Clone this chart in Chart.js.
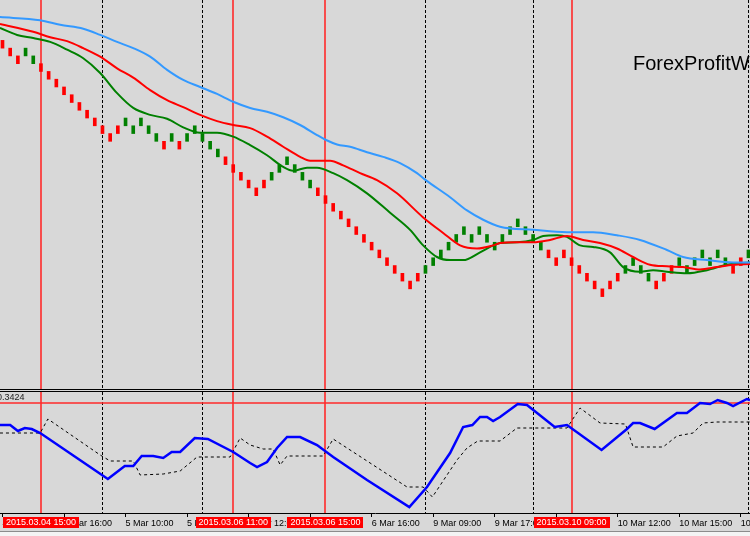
<!DOCTYPE html>
<html>
<head>
<meta charset="utf-8">
<script src="https://cdn.jsdelivr.net/npm/chart.js@4"></script>
<style>
  html, body { margin: 0; padding: 0; background: #d8d8d8; }
  #wrap { position: relative; width: 750px; height: 536px; overflow: hidden; background: #d8d8d8; }
  #mainChart { position: absolute; left: 0; top: 0; }
  #subChart { position: absolute; left: 0; top: 392px; }
  .sep { position: absolute; left: 0; width: 750px; height: 1px; background: #000; }
  #tabs { position: absolute; left: 0; top: 531px; width: 750px; height: 5px; background: #f4f4f4; border-top: 1px solid #8c8c8c; }
</style>
</head>
<body>
<div id="wrap">
  <canvas id="mainChart" width="750" height="389"></canvas>
  <div class="sep" style="top:389px"></div>
  <div class="sep" style="top:391px"></div>
  <canvas id="subChart" width="750" height="139"></canvas>
  <div id="tabs"></div>
</div>
<script>
// ---- bricks (one per bar index, brick size 10 pips) ----
const brickHigh = [
  1.0950, 1.0940, 1.0930, 1.0940, 1.0930, 1.0920, 1.0910, 1.0900, 1.0890, 1.0880,
  1.0870, 1.0860, 1.0850, 1.0840, 1.0830, 1.0840, 1.0850, 1.0840, 1.0850, 1.0840,
  1.0830, 1.0820, 1.0830, 1.0820, 1.0830, 1.0840, 1.0830, 1.0820, 1.0810, 1.0800,
  1.0790, 1.0780, 1.0770, 1.0760, 1.0770, 1.0780, 1.0790, 1.0800, 1.0790, 1.0780,
  1.0770, 1.0760, 1.0750, 1.0740, 1.0730, 1.0720, 1.0710, 1.0700, 1.0690, 1.0680,
  1.0670, 1.0660, 1.0650, 1.0640, 1.0650, 1.0660, 1.0670, 1.0680, 1.0690, 1.0700,
  1.0710, 1.0700, 1.0710, 1.0700, 1.0690, 1.0700, 1.0710, 1.0720, 1.0710, 1.0700,
  1.0690, 1.0680, 1.0670, 1.0680, 1.0670, 1.0660, 1.0650, 1.0640, 1.0630, 1.0640,
  1.0650, 1.0660, 1.0670, 1.0660, 1.0650, 1.0640, 1.0650, 1.0660, 1.0670, 1.0660,
  1.0670, 1.0680, 1.0670, 1.0680, 1.0670, 1.0660, 1.0670, 1.0680
];
// 1 = up brick (green), 0 = down brick (red)
const brickUp = [
  0, 0, 0, 1, 1, 0, 0, 0, 0, 0,
  0, 0, 0, 0, 0, 0, 1, 1, 1, 1,
  1, 0, 1, 0, 1, 1, 1, 1, 1, 0,
  0, 0, 0, 0, 0, 1, 1, 1, 1, 1,
  1, 0, 0, 0, 0, 0, 0, 0, 0, 0,
  0, 0, 0, 0, 0, 1, 1, 1, 1, 1,
  1, 1, 1, 1, 1, 1, 1, 1, 1, 1,
  1, 0, 0, 0, 0, 0, 0, 0, 0, 0,
  0, 1, 1, 1, 1, 0, 0, 0, 1, 1,
  1, 1, 1, 1, 1, 0, 0, 1
];
const brickSize = 0.0010;

// ---- moving averages (bar index, price) ----
const blueX  = [-0.33, 4.9, 7.5, 10.5, 12.7, 14.9, 17.0, 19.2, 21.4, 23.5, 25.7, 27.9, 30.0, 32.2, 34.4, 36.5, 38.7, 40.9, 42.0, 43.5, 45.2, 47.4, 49.5, 51.7, 53.9, 54.9, 58.2, 60.4, 62.5, 64.7, 69.0, 73.4, 76.8, 79.9, 82.9, 86.4, 88.5, 91.6, 95.0, 97.2];
const blueMa = [1.0980, 1.0976, 1.0970, 1.0965, 1.0957, 1.0948, 1.0940, 1.0929, 1.0912, 1.0899, 1.0890, 1.0881, 1.0871, 1.0863, 1.0858, 1.0851, 1.0841, 1.0828, 1.0822, 1.0816, 1.0813, 1.0806, 1.0800, 1.0792, 1.0779, 1.0771, 1.0748, 1.0731, 1.0719, 1.0710, 1.0706, 1.0703, 1.0703, 1.0699, 1.0693, 1.0680, 1.0671, 1.0667, 1.0664, 1.0664];

const redX  = [-0.33, 4.0, 6.2, 8.4, 10.5, 12.7, 14.9, 17.0, 19.2, 21.4, 23.5, 25.7, 27.9, 30.0, 32.2, 34.4, 36.5, 38.7, 40.0, 42.6, 44.3, 46.5, 48.7, 51.3, 54.7, 57.3, 59.5, 61.7, 63.8, 64.7, 66.9, 69.0, 71.2, 73.4, 75.5, 77.7, 79.9, 82.0, 84.2, 86.4, 88.5, 90.7, 92.9, 95.0, 97.2];
const redMa = [1.0971, 1.0961, 1.0954, 1.0949, 1.0940, 1.0929, 1.0914, 1.0902, 1.0886, 1.0873, 1.0864, 1.0854, 1.0846, 1.0841, 1.0837, 1.0826, 1.0813, 1.0800, 1.0795, 1.0795, 1.0789, 1.0779, 1.0770, 1.0753, 1.0722, 1.0702, 1.0686, 1.0682, 1.0686, 1.0689, 1.0690, 1.0690, 1.0693, 1.0698, 1.0693, 1.0689, 1.0682, 1.0671, 1.0661, 1.0659, 1.0658, 1.0655, 1.0658, 1.0661, 1.0662];

const greenX  = [-0.33, 1.9, 4.0, 6.2, 8.4, 10.5, 12.7, 14.9, 17.0, 19.2, 21.4, 23.5, 25.7, 27.9, 30.0, 32.2, 34.4, 36.5, 37.8, 39.6, 40.9, 43.0, 44.8, 47.4, 50.4, 53.0, 54.7, 56.5, 58.2, 59.9, 62.1, 63.8, 64.7, 66.9, 69.0, 70.3, 72.1, 73.4, 75.1, 76.8, 79.0, 80.7, 82.9, 84.6, 86.4, 89.0, 91.6, 94.2, 97.2];
const greenMa = [1.0966, 1.0957, 1.0953, 1.0948, 1.0938, 1.0927, 1.0908, 1.0882, 1.0863, 1.0854, 1.0849, 1.0838, 1.0831, 1.0831, 1.0826, 1.0815, 1.0802, 1.0787, 1.0782, 1.0786, 1.0786, 1.0779, 1.0770, 1.0753, 1.0728, 1.0706, 1.0686, 1.0671, 1.0667, 1.0667, 1.0677, 1.0686, 1.0689, 1.0690, 1.0693, 1.0698, 1.0699, 1.0697, 1.0686, 1.0684, 1.0677, 1.0658, 1.0652, 1.0654, 1.0652, 1.0650, 1.0654, 1.0661, 1.0664];

// ---- lower indicator window ----
const oscX    = [-0.33, 1.0, 2.0, 2.9, 3.8, 4.9, 13.7, 15.9, 17.0, 18.1, 19.6, 20.9, 22.0, 23.1, 25.0, 26.7, 30.0, 32.2, 33.1, 34.4, 35.7, 37.0, 38.7, 40.9, 43.0, 47.4, 52.9, 55.2, 58.2, 59.9, 61.1, 62.1, 63.0, 63.8, 64.7, 67.0, 68.2, 71.8, 73.4, 77.9, 81.2, 82.0, 82.9, 84.8, 87.7, 89.0, 90.7, 92.0, 93.0, 94.2, 95.0, 96.8, 97.2];
const oscLine = [0.3204, 0.3204, 0.3144, 0.3174, 0.3164, 0.3124, 0.2664, 0.2794, 0.2794, 0.2894, 0.2894, 0.2874, 0.2934, 0.2934, 0.3074, 0.3064, 0.2934, 0.2824, 0.2784, 0.2834, 0.2974, 0.3084, 0.3084, 0.3004, 0.2884, 0.2654, 0.2384, 0.2584, 0.2924, 0.3184, 0.3204, 0.3284, 0.3284, 0.3244, 0.3284, 0.3414, 0.3404, 0.3184, 0.3204, 0.2954, 0.3164, 0.3224, 0.3224, 0.3164, 0.3324, 0.3324, 0.3424, 0.3414, 0.3454, 0.3424, 0.3394, 0.3464, 0.3454];

const sigX    = [-0.33, 4.9, 5.9, 12.7, 14.0, 17.0, 17.9, 20.9, 23.1, 25.3, 29.6, 30.9, 32.2, 33.9, 35.2, 36.1, 37.0, 41.7, 43.0, 52.6, 54.7, 55.9, 59.1, 60.4, 61.8, 64.7, 66.9, 73.4, 75.1, 77.7, 81.0, 82.0, 85.9, 87.7, 89.8, 91.1, 92.9, 97.2];
const sigLine = [0.3124, 0.3124, 0.3264, 0.2904, 0.2844, 0.2844, 0.2704, 0.2714, 0.2744, 0.2884, 0.2884, 0.3074, 0.3004, 0.2964, 0.2964, 0.2804, 0.2894, 0.2894, 0.3064, 0.2584, 0.2584, 0.2484, 0.2854, 0.2974, 0.3044, 0.3044, 0.3174, 0.3174, 0.3374, 0.3224, 0.3214, 0.2984, 0.2984, 0.3094, 0.3124, 0.3224, 0.3234, 0.3234];
const levelValue = 0.3424;

// ---- time axis & chart objects ----
const tickBars   = [0, 8, 16, 24, 32, 40, 48, 56, 64, 72, 80, 88, 96];
const tickLabels = ['4 Mar 2015', '4 Mar 16:00', '5 Mar 10:00', '5 Mar 20:00', '6 Mar 12:00', '6 Mar 14:00', '6 Mar 16:00',
                    '9 Mar 09:00', '9 Mar 17:00', '10 Mar 07:00', '10 Mar 12:00', '10 Mar 15:00', '10 Mar 18:00'];
const redLineBars   = [5, 30, 42, 74];
const redLineLabels = ['2015.03.04 15:00', '2015.03.06 11:00', '2015.03.06 15:00', '2015.03.10 09:00'];
const separatorBars = [13, 26, 55, 69, 97];

const X_MIN = -0.325, X_MAX = 97.2;
const FONT = '"Liberation Sans", Arial, sans-serif';

function pts(xs, ys) {
    return xs.map((x, i) => ({ x: x, y: ys[i] }));
}

// vertical red lines + dashed period separators, drawn behind the data
const verticalLines = {
    id: 'verticalLines',
    beforeDatasetsDraw(chart) {
        const { ctx, chartArea, scales: { x } } = chart;
        ctx.save();
        ctx.lineWidth = 1;
        ctx.strokeStyle = '#000';
        ctx.setLineDash([3, 2]);
        separatorBars.forEach(b => {
            const px = Math.round(x.getPixelForValue(b)) + 0.5;
            ctx.beginPath();
            ctx.moveTo(px, chartArea.top);
            ctx.lineTo(px, chartArea.bottom);
            ctx.stroke();
        });
        ctx.setLineDash([]);
        ctx.lineWidth = 1.6;
        ctx.strokeStyle = '#ff2a2a';
        redLineBars.forEach(b => {
            const px = Math.round(x.getPixelForValue(b));
            ctx.beginPath();
            ctx.moveTo(px, chartArea.top);
            ctx.lineTo(px, chartArea.bottom);
            ctx.stroke();
        });
        ctx.restore();
    }
};

// watermark text in main window
const watermark = {
    id: 'watermark',
    afterDraw(chart) {
        const { ctx } = chart;
        ctx.save();
        ctx.font = '20px ' + FONT;
        ctx.fillStyle = '#000';
        ctx.textBaseline = 'alphabetic';
        ctx.fillText('ForexProfitWay', 633, 70);
        ctx.restore();
    }
};

// level line in indicator window
const levelLine = {
    id: 'levelLine',
    beforeDatasetsDraw(chart) {
        const { ctx, chartArea, scales: { y } } = chart;
        const py = Math.round(y.getPixelForValue(levelValue));
        ctx.save();
        ctx.strokeStyle = '#ff2a2a';
        ctx.lineWidth = 1.6;
        ctx.beginPath();
        ctx.moveTo(chartArea.left, py);
        ctx.lineTo(chartArea.right, py);
        ctx.stroke();
        ctx.font = '9px ' + FONT;
        ctx.fillStyle = '#222';
        ctx.textBaseline = 'bottom';
        ctx.fillText(levelValue.toFixed(4), -3, py - 1);
        ctx.restore();
    }
};

// red date boxes on the time axis
const dateBoxes = {
    id: 'dateBoxes',
    afterDraw(chart) {
        const { ctx, chartArea, scales: { x } } = chart;
        ctx.save();
        ctx.font = '9px ' + FONT;
        ctx.textBaseline = 'middle';
        ctx.textAlign = 'center';
        redLineBars.forEach((b, i) => {
            const px = x.getPixelForValue(b);
            const w = ctx.measureText(redLineLabels[i]).width + 6;
            const top = chartArea.bottom + 4;
            ctx.fillStyle = '#ff0000';
            ctx.fillRect(Math.round(px - w / 2), top, Math.round(w), 11);
            ctx.fillStyle = '#ffffff';
            ctx.fillText(redLineLabels[i], px, top + 6);
        });
        ctx.restore();
    }
};

/*** ===========================
 *  MAIN WINDOW (bricks + MAs)
 *  =========================== ***/
const brickData = brickHigh.map((h, i) => ({ x: i, y: [h - brickSize, h] }));

new Chart(document.getElementById('mainChart'), {
    type: 'bar',
    data: {
        datasets: [
            { type: 'line', data: pts(blueX, blueMa), borderColor: '#3399ff', borderWidth: 2, pointRadius: 0, cubicInterpolationMode: 'monotone', order: 0 },
            { type: 'line', data: pts(redX, redMa), borderColor: '#ff0000', borderWidth: 2, pointRadius: 0, cubicInterpolationMode: 'monotone', order: 0 },
            { type: 'line', data: pts(greenX, greenMa), borderColor: '#008000', borderWidth: 2, pointRadius: 0, cubicInterpolationMode: 'monotone', order: 0 },
            {
                type: 'bar',
                data: brickData,
                backgroundColor: brickUp.map(u => u ? '#008000' : '#ff0000'),
                barThickness: 3,
                order: 1
            }
        ]
    },
    options: {
        responsive: false,
        devicePixelRatio: 1,
        animation: false,
        layout: { padding: 0 },
        plugins: { legend: { display: false }, tooltip: { enabled: false } },
        scales: {
            x: { type: 'linear', min: X_MIN, max: X_MAX, offset: false, display: false },
            y: { min: 1.0501, max: 1.1002, display: false }
        }
    },
    plugins: [verticalLines, watermark]
});

/*** ===========================
 *  INDICATOR WINDOW + TIME AXIS
 *  =========================== ***/
new Chart(document.getElementById('subChart'), {
    type: 'line',
    data: {
        datasets: [
            { data: pts(oscX, oscLine), borderColor: '#0000ff', borderWidth: 2.5, pointRadius: 0, tension: 0 },
            { data: pts(sigX, sigLine), borderColor: '#000000', borderWidth: 1, borderDash: [3, 3], pointRadius: 0, tension: 0 }
        ]
    },
    options: {
        responsive: false,
        devicePixelRatio: 1,
        animation: false,
        layout: { padding: 0 },
        plugins: { legend: { display: false }, tooltip: { enabled: false } },
        scales: {
            x: {
                type: 'linear',
                min: X_MIN,
                max: X_MAX,
                offset: false,
                border: { display: true, color: '#000', width: 1 },
                grid: { drawOnChartArea: false, drawTicks: true, tickLength: 4, color: '#000' },
                ticks: {
                    autoSkip: false,
                    maxRotation: 0,
                    minRotation: 0,
                    align: 'start',
                    padding: 1,
                    color: '#000',
                    font: { family: FONT, size: 9 },
                    callback: (v, i) => tickLabels[i]
                },
                afterBuildTicks: (scale) => {
                    scale.ticks = tickBars.map(v => ({ value: v }));
                },
                afterFit: (scale) => {
                    scale.height = 18;
                    scale.paddingLeft = 0;
                    scale.paddingRight = 0;
                }
            },
            y: { min: 0.2324, max: 0.3534, display: false }
        }
    },
    plugins: [verticalLines, levelLine, dateBoxes]
});
</script>
</body>
</html>
